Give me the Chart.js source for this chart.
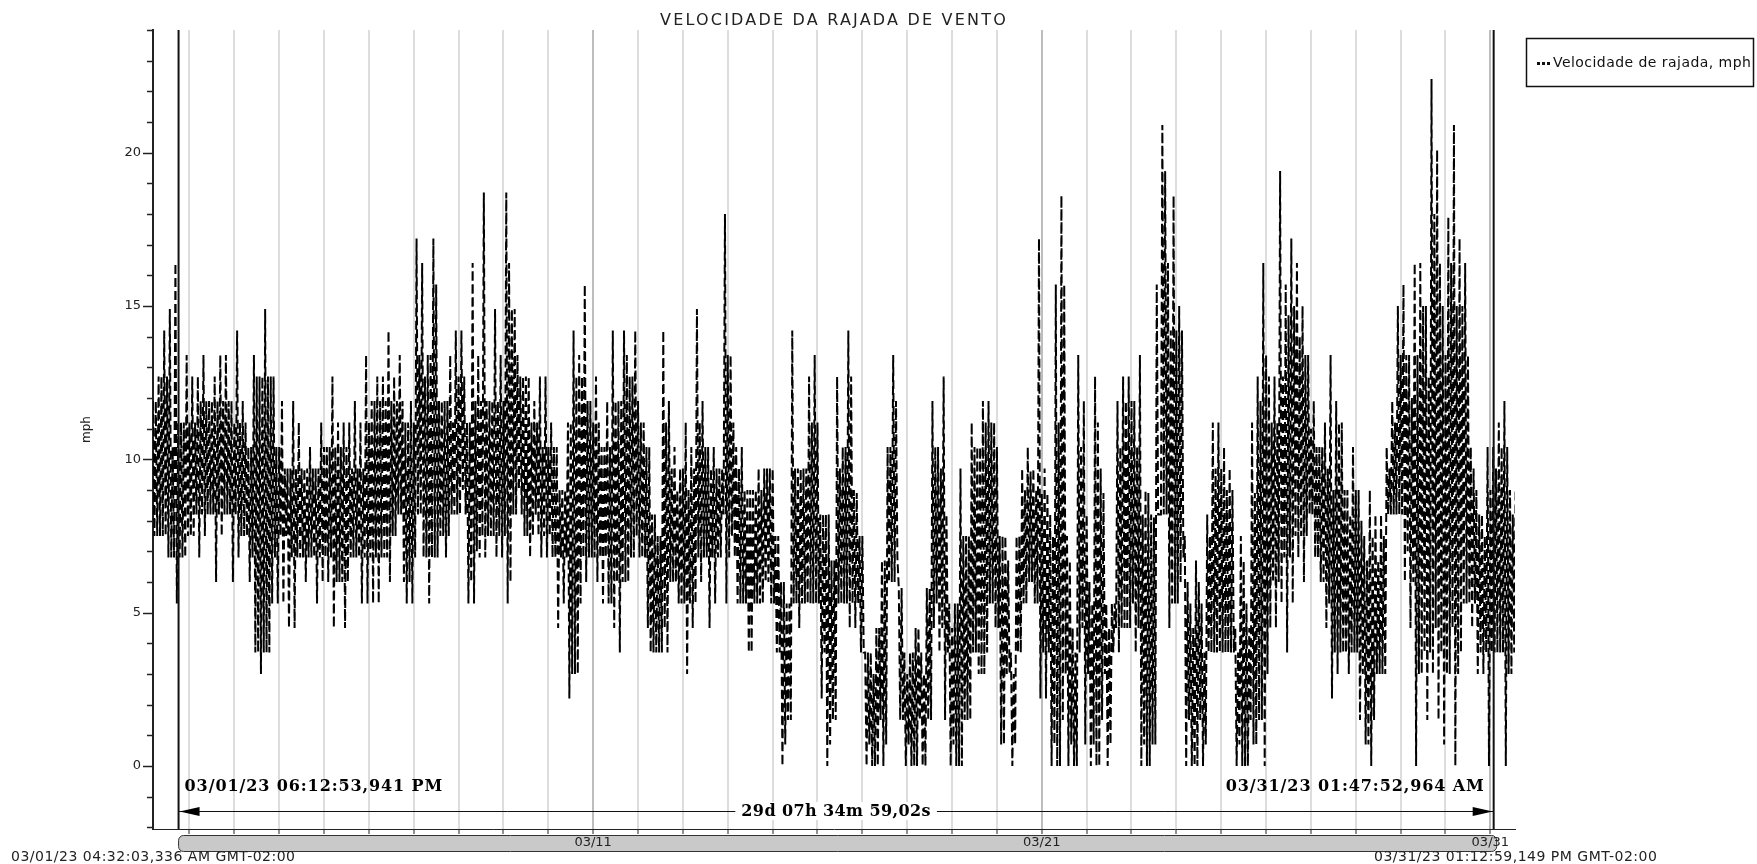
<!DOCTYPE html>
<html>
<head>
<meta charset="utf-8">
<title>Velocidade da rajada de vento</title>
<script src="https://cdn.jsdelivr.net/npm/chart.js@4"></script>
<style>
html, body { margin: 0; padding: 0; background: #fff; overflow: hidden; }
canvas { display: block; }
</style>
</head>
<body>
<canvas id="myChart" width="1757" height="864"></canvas>
<script>
// one entry for every 3 hours: outer high and low
const picos = [
  11.9,12.7,14.2,14.9,16.4,11.2,13.4,12.7,12.7,13.4,
  11.9,12.7,13.4,13.4,11.9,14.2,11.9,10.4,13.4,12.7,
  14.9,12.7,10.4,11.9,9.7,11.9,11.2,9.7,10.4,9.7,
  11.2,10.4,12.7,11.2,11.2,11.2,11.9,11.2,13.4,11.9,
  12.7,12.7,14.2,12.7,13.4,11.2,11.9,17.2,16.4,13.4,
  17.2,11.9,11.9,13.4,14.2,14.2,11.2,16.4,13.4,18.7,
  11.9,14.9,13.4,18.7,14.9,13.4,12.7,12.7,11.9,12.7,
  12.7,11.2,10.4,9.0,11.2,14.2,13.4,15.7,11.9,12.7,
  10.4,11.9,14.2,11.9,14.2,12.7,14.2,11.2,10.4,8.2,
  7.5,14.2,11.9,10.4,9.7,11.2,10.4,14.9,11.9,10.4,
  10.4,9.7,18.0,13.4,10.4,10.4,9.0,9.0,9.7,9.7,
  9.7,7.5,6.0,5.3,14.2,9.7,9.7,12.7,13.4,8.2,
  8.2,6.7,12.7,10.4,14.2,9.0,7.5,3.7,3.7,4.5,
  6.7,10.4,13.4,5.8,3.7,3.7,4.5,3.7,5.8,11.9,
  10.4,12.7,5.3,5.3,9.7,7.5,11.2,10.4,11.9,11.9,
  11.2,7.5,7.5,3.7,7.5,9.7,10.4,9.7,17.2,9.7,
  8.2,15.7,18.6,7.5,4.5,13.4,11.9,6.0,12.7,9.7,
  5.3,5.3,11.9,12.7,12.7,11.9,13.4,9.0,8.2,15.7,
  20.9,16.4,18.6,15.0,7.5,5.3,6.7,5.3,8.2,11.2,
  11.2,10.4,9.7,4.5,7.5,5.3,11.2,12.7,16.4,12.7,
  12.7,19.4,15.7,17.2,16.4,15.0,13.4,11.9,10.4,11.2,
  13.4,11.9,11.2,9.0,10.4,9.0,7.5,9.0,8.2,8.2,
  10.4,11.9,15.0,15.7,13.4,16.4,16.4,15.0,22.4,20.1,
  15.0,17.9,20.9,17.2,16.4,10.4,9.0,8.2,10.4,10.4,
  11.2,11.9,9.0,9.0
];
const vales = [
  7.5,7.5,7.5,6.8,5.3,6.8,7.5,7.5,6.8,7.5,
  8.2,6.0,7.5,8.2,6.0,6.8,7.5,6.0,3.7,3.0,
  3.7,5.3,5.3,5.3,4.5,4.5,6.8,6.0,6.8,5.3,
  6.0,6.0,4.5,6.0,4.5,6.8,6.8,5.3,5.3,5.3,
  5.3,6.8,6.0,7.5,8.2,5.3,5.3,8.2,6.8,5.3,
  6.8,7.5,6.8,8.2,8.2,9.0,5.3,5.3,6.8,6.8,
  7.5,6.8,6.8,5.3,8.2,9.0,7.5,6.8,8.2,6.8,
  6.8,6.8,4.5,5.3,2.2,3.0,5.3,6.0,6.8,6.0,
  5.3,5.3,4.5,3.7,6.0,6.8,7.5,6.8,4.5,3.7,
  3.7,4.5,6.0,6.0,5.3,3.0,4.5,6.8,6.8,4.5,
  5.3,6.8,5.3,7.5,5.3,5.3,3.7,5.3,5.3,6.0,
  5.3,3.7,0,1.5,5.3,4.5,5.3,5.3,5.3,2.2,
  0,1.5,5.3,5.3,4.5,4.5,3.7,0,0,0,
  0,6.0,6.0,1.5,0,0,0,0,1.5,4.5,
  3.7,1.5,0,0,0,1.5,3.7,3.0,3.0,5.3,
  4.5,0.7,3.0,0,3.7,5.3,6.0,5.3,2.2,2.2,
  0,0,1.5,0,0,3.7,0.7,0,0,1.5,
  0,3.7,3.7,4.5,4.5,3.7,0,0,0.7,8.2,
  8.2,4.5,5.3,6.0,0,0,0,0,3.7,3.7,
  3.7,3.7,3.7,0,0,0,0.7,1.5,0,4.5,
  4.5,5.3,3.7,5.3,6.8,6.0,8.2,6.8,6.0,4.5,
  2.2,3.0,3.7,3.0,3.7,1.5,0.7,0,3.0,3.0,
  8.2,8.2,8.2,6.0,4.5,0,3.0,1.5,3.0,1.5,
  0.7,3.0,0,3.7,5.3,4.5,3.0,3.0,0,3.7,
  3.7,0,3.0,4.5
];
// top and bottom of the dense black band, same 3 hour columns
const nucleoAlto = [
  11.9,12.7,12.7,10.4,11.2,11.2,11.2,11.2,11.9,11.9,
  11.9,11.9,11.9,11.9,11.2,11.2,11.2,10.4,12.7,12.7,
  12.7,12.7,10.4,9.7,9.7,9.7,9.7,9.7,9.7,9.7,
  10.4,10.4,10.4,10.4,10.4,9.7,9.7,9.7,11.2,11.9,
  11.9,11.9,11.9,11.9,11.9,11.2,11.2,13.4,12.7,13.4,
  15.7,11.9,11.9,11.2,12.7,12.7,11.2,11.9,11.9,11.9,
  11.9,11.9,11.9,16.4,14.9,12.7,12.7,11.2,11.2,10.4,
  10.4,10.4,9.0,9.0,11.2,12.7,12.7,11.9,11.2,11.2,
  10.4,10.4,11.9,11.9,13.4,12.7,11.9,11.2,10.4,8.2,
  7.5,11.2,9.7,9.0,9.7,9.0,9.7,11.2,10.4,9.7,
  9.7,9.7,13.4,11.2,9.7,9.0,9.0,9.0,9.0,9.7,
  9.7,7.5,6.0,5.3,9.7,9.7,9.7,11.2,11.2,8.2,
  8.2,6.7,9.7,10.4,12.7,8.9,7.5,3.7,3.0,4.5,
  6.7,10.4,11.9,5.8,3.0,3.7,4.5,3.0,5.8,10.4,
  9.7,8.2,4.5,5.3,7.5,7.5,10.4,10.4,11.2,11.2,
  10.4,7.5,6.7,3.0,7.5,9.0,9.6,9.0,8.9,8.9,
  7.5,11.2,15.7,6.7,3.7,10.4,8.2,5.3,11.2,8.9,
  4.5,5.3,10.4,11.9,11.9,10.4,8.2,8.9,8.1,8.2,
  19.4,14.2,14.2,14.2,6.0,4.5,6.0,3.7,7.5,9.7,
  9.7,9.0,9.0,3.7,6.7,4.5,8.9,11.9,13.4,11.2,
  11.2,12.7,14.7,15.0,14.0,13.4,11.0,10.4,10.4,9.7,
  9.0,11.2,9.0,8.2,9.0,8.0,6.7,7.5,6.7,7.5,
  9.7,11.2,13.4,13.4,12.0,13.4,15.0,12.7,18.0,16.4,
  13.4,16.4,15.0,15.0,13.4,9.7,8.2,7.5,9.0,9.7,
  10.4,10.4,8.2,8.9
];
const nucleoBaixo = [
  7.5,7.5,6.8,6.8,6.8,6.8,7.5,8.2,8.2,8.2,
  8.2,8.2,8.2,8.2,8.2,7.5,7.5,6.8,3.7,3.7,
  3.7,6.8,7.5,7.5,6.8,6.8,6.8,6.8,6.8,6.8,
  6.8,6.8,6.0,6.0,6.0,6.8,6.8,6.8,6.8,6.8,
  6.8,6.8,7.5,8.2,6.0,6.0,6.8,8.2,6.8,6.8,
  6.8,7.5,7.5,8.2,8.2,8.2,6.0,7.0,7.5,7.5,
  7.5,7.5,7.5,6.0,8.2,8.2,7.5,7.5,7.5,7.5,
  7.5,6.8,6.8,6.8,3.0,3.0,6.8,6.8,6.8,6.8,
  6.8,5.3,6.0,6.0,6.0,6.8,6.8,6.8,3.7,3.7,
  3.7,3.7,6.0,5.3,5.3,5.3,5.3,6.0,6.8,6.8,
  6.8,8.2,6.8,6.8,5.3,5.3,3.7,5.3,5.3,6.0,
  5.3,3.7,0.7,1.5,5.3,5.3,5.3,5.3,5.3,3.7,
  0.7,1.5,5.3,5.3,5.3,5.3,3.7,0.7,0,1.5,
  0.7,6.0,6.8,1.5,0.7,0,1.5,0,1.5,5.3,
  4.5,3.7,0.7,0,1.5,1.5,3.7,3.0,3.7,5.3,
  4.5,0.7,3.0,0.7,3.7,5.3,6.0,5.3,3.7,3.7,
  0.7,0,3.0,0.7,0,4.5,3.0,0.7,0,3.0,
  0.7,4.5,4.5,4.5,5.3,4.5,0.7,0,0.7,8.2,
  8.2,5.3,5.3,6.8,1.5,0,1.5,0.7,3.7,3.7,
  3.7,3.7,3.7,0.7,0,1.5,0.7,1.5,3.0,6.0,
  6.0,6.8,6.8,7.5,7.5,7.5,8.2,6.8,6.0,5.3,
  3.7,3.7,3.7,3.7,3.7,3.0,0.7,1.5,3.0,3.0,
  8.2,8.2,8.2,7.0,6.0,3.0,3.7,3.7,4.5,3.7,
  3.0,4.5,3.0,5.3,5.3,5.3,3.7,3.7,3.7,3.7,
  3.7,3.0,3.7,4.5
];
const diaInicio = 0.189;   // 03/01 04:32, in days from 03/01 00:00
const diaFim = 30.55;      // 03/31 13:12
const passo = 0.125;
const cursorA = 0.759;     // 03/01 18:12
const cursorB = 30.0744;   // 03/31 01:47
const rotulosDias = {10: "03/11", 20: "03/21", 30: "03/31"};
const titulo = "VELOCIDADE DA RAJADA DE VENTO";
const textoEsq = "03/01/23 06:12:53,941 PM";
const textoDir = "03/31/23 01:47:52,964 AM";
const textoMeio = "29d 07h 34m 59,02s";
const rodapeEsq = "03/01/23 04:32:03,336 AM GMT-02:00";
const rodapeDir = "03/31/23 01:12:59,149 PM GMT-02:00";
const legendaTexto = "Velocidade de rajada, mph";

// four readings in every column, zigzag like the logger trace
const pontos = [];
picos.forEach((p, i) => {
  const t = diaInicio + i * passo;
  pontos.push({x: t, y: p});
  pontos.push({x: t + passo / 4, y: vales[i]});
  pontos.push({x: t + passo / 2, y: nucleoAlto[i]});
  pontos.push({x: t + 3 * passo / 4, y: nucleoBaixo[i]});
});

// scrollbar goes under the axis labels
const fundo = {
  id: "fundo",
  beforeDraw(chart) {
    const c = chart.ctx, x = chart.scales.x;
    const a = x.getPixelForValue(cursorA), b = x.getPixelForValue(cursorB) + 3;
    c.save();
    c.fillStyle = "#c9c9c9";
    c.strokeStyle = "#333";
    c.lineWidth = 1;
    c.beginPath();
    c.roundRect(a, 835.5, b - a, 16, 5);
    c.fill();
    c.stroke();
    c.restore();
  }
};

const extras = {
  id: "extras",
  afterDraw(chart) {
    const c = chart.ctx, x = chart.scales.x, y = chart.scales.y, area = chart.chartArea;
    const a = x.getPixelForValue(cursorA), b = x.getPixelForValue(cursorB);
    c.save();

    // ticks of the value axis, every 5 longer
    c.strokeStyle = "#222";
    c.lineWidth = 1.5;
    y.ticks.forEach(t => {
      if (!Number.isInteger(t.value)) return;
      const py = Math.round(y.getPixelForValue(t.value)) + 0.5;
      const len = t.value % 5 === 0 ? 10 : 6;
      c.beginPath();
      c.moveTo(area.left - len, py);
      c.lineTo(area.left, py);
      c.stroke();
    });

    // the two cursors
    c.strokeStyle = "#111";
    c.lineWidth = 2;
    [a, b].forEach(px => {
      c.beginPath();
      c.moveTo(px, area.top);
      c.lineTo(px, area.bottom);
      c.stroke();
    });

    // measure arrow
    const ya = 811;
    c.lineWidth = 1;
    c.beginPath();
    c.moveTo(a, ya + 0.5);
    c.lineTo(b, ya + 0.5);
    c.stroke();
    c.fillStyle = "#000";
    c.beginPath();
    c.moveTo(a + 1, ya + 0.5); c.lineTo(a + 21, ya - 4); c.lineTo(a + 21, ya + 5);
    c.closePath(); c.fill();
    c.beginPath();
    c.moveTo(b - 1, ya + 0.5); c.lineTo(b - 21, ya - 4); c.lineTo(b - 21, ya + 5);
    c.closePath(); c.fill();

    c.textBaseline = "middle";

    // title, the original text is stretched wide
    c.font = "16px 'DejaVu Sans'";
    c.letterSpacing = "2.2px";
    c.fillStyle = "#222";
    c.textAlign = "center";
    c.fillText(titulo, (area.left + area.right) / 2, 21);

    c.font = "bold 16px 'DejaVu Serif'";
    c.letterSpacing = "0.4px";
    const m = x.getPixelForValue((cursorA + cursorB) / 2);
    const w = c.measureText(textoMeio).width + 12;
    c.fillStyle = "#fff";
    c.fillRect(m - w / 2, ya - 9, w, 18);
    c.fillStyle = "#000";
    c.fillText(textoMeio, m, ya + 0.5);
    c.letterSpacing = "0.9px";
    c.textAlign = "left";
    c.fillText(textoEsq, a + 6, 787);
    c.textAlign = "right";
    c.fillText(textoDir, b - 9, 787);

    // dates under the scrollbar
    c.font = "14px 'DejaVu Sans'";
    c.letterSpacing = "0.5px";
    c.fillStyle = "#222";
    c.textAlign = "left";
    c.fillText(rodapeEsq, 11, 857);
    c.fillText(rodapeDir, 1374, 857);

    // legend box
    c.strokeStyle = "#111";
    c.lineWidth = 1.5;
    c.strokeRect(1526.5, 38.5, 227, 48);
    c.fillStyle = "#111";
    [1537, 1542, 1547].forEach(px => c.fillRect(px, 62, 3, 3));
    c.font = "14px 'DejaVu Sans'";
    c.letterSpacing = "0.45px";
    c.fillText(legendaTexto, 1553, 63);
    c.restore();
  }
};

let mychart = new Chart("myChart", {
  type: "line",
  data: {
    datasets: [{
      label: legendaTexto,
      data: pontos,
      borderColor: "#000",
      borderWidth: 2,
      borderDash: [9, 4],
      pointRadius: 0,
      tension: 0,
      clip: true
    }]
  },
  options: {
    responsive: false,
    animation: false,
    devicePixelRatio: 1,
    layout: {padding: {left: 0, right: 242, top: 30, bottom: 0}},
    plugins: {
      legend: {display: false},
      tooltip: {enabled: false}
    },
    scales: {
      x: {
        type: "linear",
        min: diaInicio,
        max: diaFim,
        afterFit(s) { s.height = 35; },
        border: {color: "#222", width: 1},
        grid: {
          color: c => c.tick && c.tick.value % 10 === 0 ? "#bdbdbd" : "#dddddd",
          lineWidth: 2,
          tickColor: "#222",
          tickWidth: 1,
          tickLength: 5
        },
        ticks: {
          stepSize: 1,
          includeBounds: false,
          autoSkip: false,
          maxRotation: 0,
          padding: 1,
          color: "#222",
          font: {family: "'DejaVu Sans'", size: 13},
          callback: v => rotulosDias[v] || ""
        }
      },
      y: {
        type: "linear",
        min: -2.055,
        max: 24.0,
        afterFit(s) { s.width = 153; },
        border: {color: "#222", width: 2},
        title: {
          display: true,
          text: "mph",
          color: "#222",
          font: {family: "'DejaVu Sans'", size: 12},
          padding: {top: 80, bottom: 0}
        },
        grid: {drawOnChartArea: false, drawTicks: false},
        ticks: {
          stepSize: 1,
          includeBounds: false,
          autoSkip: false,
          padding: 12,
          color: "#222",
          font: {family: "'DejaVu Sans'", size: 13},
          callback: v => (Number.isInteger(v) && v % 5 === 0 && v >= 0) ? String(v) : ""
        }
      }
    }
  },
  plugins: [fundo, extras]
});
</script>
</body>
</html>
